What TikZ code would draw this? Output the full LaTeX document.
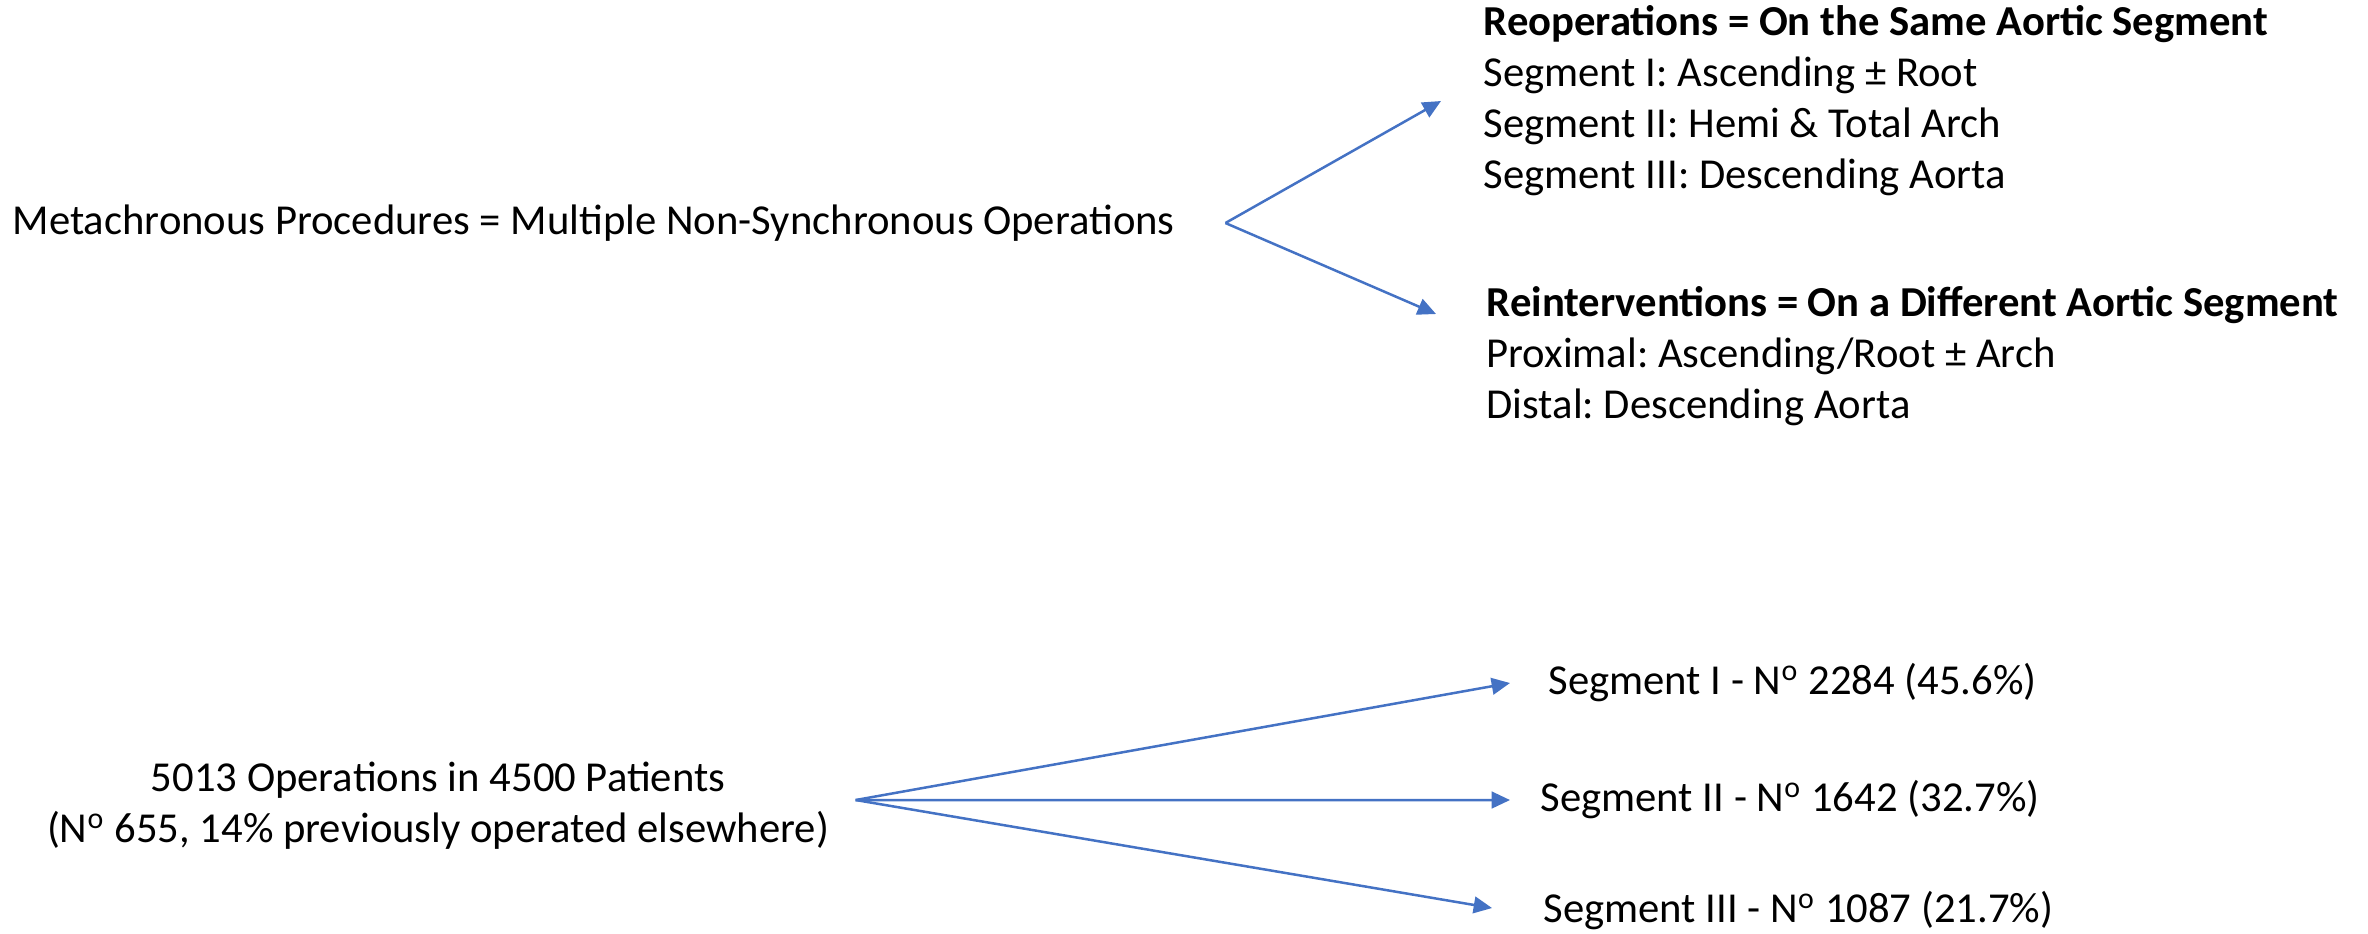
\documentclass[tikz,border=0pt]{standalone}
\usepackage{fontspec}
\setmainfont{Carlito}
\usepackage{xcolor}
\usetikzlibrary{arrows.meta}
\usetikzlibrary{positioning}
\definecolor{flowblue}{HTML}{4472C4}
\newcommand{\mNo}{N\textsuperscript{o}}
\frenchspacing
\tikzset{
  txt/.style={inner sep=0pt,font=\fontsize{12.8}{15.3}\selectfont},
  flow/.style={draw=flowblue,line width=0.75pt,-{Triangle[length=5.5pt,width=5pt]}}
}

\begin{document}
\begin{tikzpicture}[x=0.3pt,y=-0.3pt]
    \useasboundingbox (0,0) rectangle (2368,933);
    % upper part
    \node[txt,anchor=west] (meta) at (12,223) {Metachronous Procedures = Multiple Non-Synchronous Operations};
    \coordinate (split) at ([xshift=15pt]meta.east);
    \node[txt,anchor=west,align=left] (reop) at (1483,101) {\textbf{Reoperations = On the Same Aortic Segment}\\
      Segment I: Ascending ± Root\\
      Segment II: Hemi \& Total Arch\\
      Segment III: Descending Aorta};
    \node[txt,anchor=west,align=left] (reint) at (1486,356) {\textbf{Reinterventions = On a Different Aortic Segment}\\
      Proximal: Ascending/Root ± Arch\\
      Distal: Descending Aorta};
    \draw[flow] (split) -- ([xshift=-12.6pt]reop.west);
    \draw[flow] (split) -- ([xshift=-15pt,yshift=12.6pt]reint.west);
    % lower part
    \node[txt,align=center] (ops) at (438,806) {5013 Operations in 4500 Patients\\
      (\mNo{} 655, 14\% previously operated elsewhere)};
    \coordinate (split2) at ([xshift=7.8pt,yshift=1.8pt]ops.east);
    \node[txt,anchor=west] (segone) at (1548,683) {Segment I - \mNo{} 2284 (45.6\%)};
    \node[txt,anchor=west] (segtwo) at (1540,800) {Segment II - \mNo{} 1642 (32.7\%)};
    \node[txt,anchor=west] (segthree) at (1543,911) {Segment III - \mNo{} 1087 (21.7\%)};
    \draw[flow] (split2) -- ([xshift=-11.4pt]segone.west);
    \draw[flow] (split2) -- ([xshift=-9pt]segtwo.west);
    \draw[flow] (split2) -- ([xshift=-15.3pt,yshift=0.9pt]segthree.west);
\end{tikzpicture}
\end{document}
